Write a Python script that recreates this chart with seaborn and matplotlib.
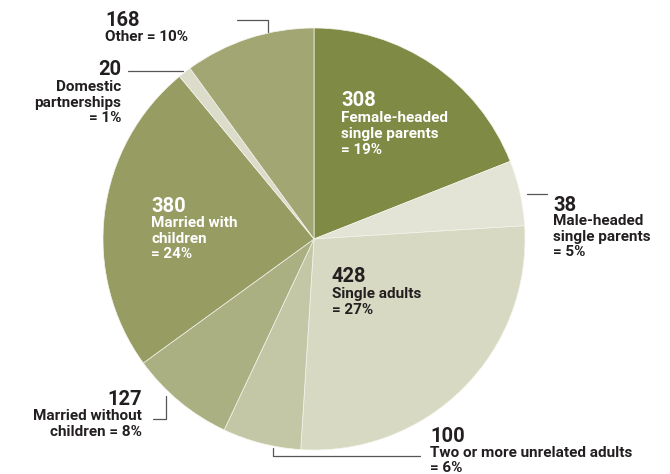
import matplotlib
matplotlib.use("Agg")
import matplotlib.pyplot as plt
from matplotlib.lines import Line2D
import seaborn as sns

# datos
categorias = ["Female-headed\nsingle parents", "Male-headed\nsingle parents",
              "Single adults", "Two or more unrelated adults",
              "Married without\nchildren", "Married with\nchildren",
              "Domestic\npartnerships", "Other"]
conteos = [308, 38, 428, 100, 127, 380, 20, 168]
porcentajes = [19, 5, 27, 6, 8, 24, 1, 10]
colores = ["#7f8a45", "#e3e4d6", "#d7d9c2", "#c4c7a6",
           "#abb083", "#969c62", "#dcdcca", "#a2a673"]

sns.set_theme(style="white")
plt.rcParams["font.family"] = ["Roboto", "DejaVu Sans"]

W, H = 670, 474
fig = plt.figure(figsize=(W / 100, H / 100), dpi=100)

# pie centrado en (314, 239) px con radio 211 px
cx, cy, r = 314, 239, 211
ax = fig.add_axes([(cx - r) / W, (H - cy - r) / H, 2 * r / W, 2 * r / H])
ax.pie(porcentajes, colors=colores, startangle=90, counterclock=False,
       wedgeprops=dict(edgecolor="#f4f4ec", linewidth=0.5))
ax.set_xlim(-1, 1)
ax.set_ylim(-1, 1)
ax.set_aspect("equal")
ax.axis("off")


def px(x, y):
    return x / W, 1 - y / H


OSCURO = "#231f20"


def etiqueta(i, x, base_num, bases, ha="left", color=OSCURO, texto=None):
    fig.text(*px(x, base_num), f"{conteos[i]}", ha=ha, va="baseline",
             fontsize=14.5, fontweight="bold", color=color)
    lineas = (texto if texto is not None else categorias[i]).split("\n")
    for linea, b in zip(lineas, bases):
        fig.text(*px(x, b), linea, ha=ha, va="baseline",
                 fontsize=11, fontweight="bold", color=color)


def linea(xs, ys):
    pts = [px(x, y) for x, y in zip(xs, ys)]
    fig.add_artist(Line2D([p[0] for p in pts], [p[1] for p in pts],
                          color="#555555", lw=0.9))


etiqueta(0, 341, 106, [122, 138, 154], color="white",
         texto=categorias[0] + f"\n= {porcentajes[0]}%")
etiqueta(1, 553, 211, [225, 241, 256],
         texto=categorias[1] + f"\n= {porcentajes[1]}%")
etiqueta(2, 332, 282, [298, 314],
         texto=categorias[2] + f"\n= {porcentajes[2]}%")
etiqueta(3, 430, 442, [457, 472],
         texto=categorias[3] + f"\n= {porcentajes[3]}%")
etiqueta(4, 142, 405, [420, 436], ha="right",
         texto="Married without\nchildren" + f" = {porcentajes[4]}%")
etiqueta(5, 151, 212, [227, 243, 258], color="white",
         texto=categorias[5] + f"\n= {porcentajes[5]}%")
etiqueta(6, 121, 75, [91, 107, 122], ha="right",
         texto=categorias[6] + f"\n= {porcentajes[6]}%")
etiqueta(7, 105, 26, [41], texto=f"Other = {porcentajes[7]}%")

# líneas guía
linea([237, 268, 268], [20, 20, 32])
linea([128, 183], [71, 71])
linea([527, 547], [194, 194])
linea([273, 273, 420], [448, 456, 456])
linea([153, 166, 166], [419, 419, 396])

fig.savefig("out.png", dpi=100)
